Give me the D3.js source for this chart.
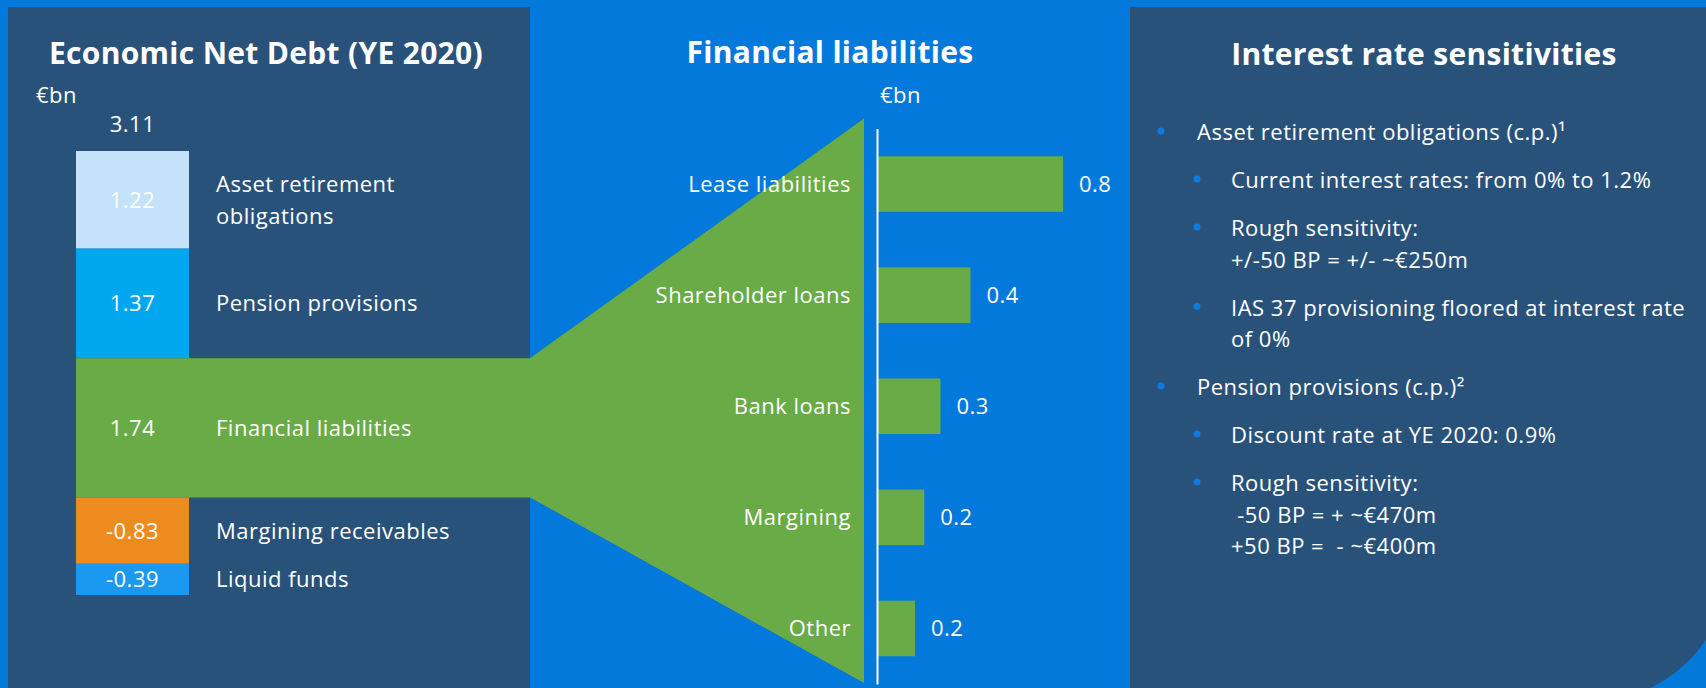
<!DOCTYPE html>
<html lang="en">
<head>
<meta charset="UTF-8">
<title>Economic Net Debt</title>
<script src="https://cdn.jsdelivr.net/npm/d3@7"></script>
<style>
    body { margin: 0; background: #0479dc; overflow: hidden; }
    svg text { font-family: "Open Sans", sans-serif; fill: #fff; letter-spacing: 0.5px; }
    svg text.title { letter-spacing: 0.3px; }
</style>
</head>
<body>
<script>
    var width = 1706;
    var height = 688;

    // Economic net debt YE 2020, €bn
    var debtLabels = [["Asset retirement", "obligations"], ["Pension provisions"], ["Financial liabilities"],
        ["Margining receivables"], ["Liquid funds"]];
    var debtValues = [1.22, 1.37, 1.74, -0.83, -0.39];
    var debtColors = ["#c4e3fa", "#00a7ee", "#69ab47", "#ee8b1f", "#1b99f1"];

    // breakdown of financial liabilities, €bn
    var liabCategories = ["Lease liabilities", "Shareholder loans", "Bank loans", "Margining", "Other"];
    var liabValues = [0.80, 0.40, 0.27, 0.20, 0.16];

    // interest rate sensitivities: [level, lines]
    var sensItems = [
        [1, ["Asset retirement obligations (c.p.)\u00b9"]],
        [2, ["Current interest rates: from 0% to 1.2%"]],
        [2, ["Rough sensitivity:", "+/-50 BP = +/- ~\u20ac250m"]],
        [2, ["IAS 37 provisioning floored at interest rate", "of 0%"]],
        [1, ["Pension provisions (c.p.)\u00b2"]],
        [2, ["Discount rate at YE 2020: 0.9%"]],
        [2, ["Rough sensitivity:", " -50 BP = + ~\u20ac470m", "+50 BP =  - ~\u20ac400m"]]
    ];

    var green = "#69ab47";
    var dark = "#29527a";
    var fs = 22;

    var svg = d3.select("body").append("svg")
            .attr("width", width)
            .attr("height", height);

    svg.append("rect").attr("width", width).attr("height", height).attr("fill", "#0479dc");

    // panels
    svg.append("rect")
            .attr("x", 8).attr("y", 7)
            .attr("width", 522).attr("height", height)
            .attr("fill", dark);
    svg.append("path")
            .attr("d", "M1130,7H1730V561A141,141 0 0 1 1589,702H1130Z")
            .attr("fill", dark);

    function title(x, y, txt) {
        svg.append("text")
                .attr("class", "title")
                .attr("x", x).attr("y", y)
                .attr("text-anchor", "middle")
                .attr("font-size", 30)
                .attr("font-weight", 700)
                .text(txt);
    }
    title(266, 64, "Economic Net Debt (YE 2020)");
    title(830, 63, "Financial liabilities");
    title(1424, 65, "Interest rate sensitivities");

    // ---- left: stacked net debt column
    var absVals = debtValues.map(Math.abs);
    var starts = [0].concat(Array.from(d3.cumsum(absVals)));
    var yDebt = d3.scaleLinear()
            .domain([0, d3.sum(absVals)])
            .range([151, 595]);
    var barX0 = 76, barX1 = 189, barMid = (barX0 + barX1) / 2;

    // middle: bar chart scales
    var yBand = d3.scaleBand()
            .domain(liabCategories)
            .range([128.5, 684])
            .paddingInner(0.5)
            .paddingOuter(0.25);
    var xLiab = d3.scaleLinear()
            .domain([0, 0.8])
            .range([878, 1063]);

    // funnel from financial liabilities to the breakdown
    var fl = 2;
    var flTop = yDebt(starts[fl]), flBot = yDebt(starts[fl + 1]);
    var funnelX = 864;
    svg.append("polygon")
            .attr("points", [[barX1, flTop], [530, flTop], [funnelX, yBand.range()[0] - 10],
                [funnelX, yBand.range()[1] - 1], [530, flBot], [barX1, flBot]].join(" "))
            .attr("fill", green);

    svg.selectAll("rect.debt")
            .data(debtValues)
            .enter()
            .append("rect")
            .attr("class", "debt")
            .attr("x", barX0)
            .attr("width", barX1 - barX0)
            .attr("y", function (d, i) { return yDebt(starts[i]); })
            .attr("height", function (d, i) { return yDebt(starts[i + 1]) - yDebt(starts[i]); })
            .attr("fill", function (d, i) { return debtColors[i]; });

    svg.selectAll("text.debtVal")
            .data(debtValues)
            .enter()
            .append("text")
            .attr("class", "debtVal")
            .attr("x", barMid)
            .attr("y", function (d, i) { return (yDebt(starts[i]) + yDebt(starts[i + 1])) / 2; })
            .attr("dy", "0.36em")
            .attr("text-anchor", "middle")
            .attr("font-size", fs)
            .text(function (d) { return d.toFixed(2); });

    var debtLab = svg.selectAll("text.debtLab")
            .data(debtLabels)
            .enter()
            .append("text")
            .attr("class", "debtLab")
            .attr("x", 216)
            .attr("y", function (d, i) { return (yDebt(starts[i]) + yDebt(starts[i + 1])) / 2; })
            .attr("font-size", fs);
    debtLab.selectAll("tspan")
            .data(function (d) { return d; })
            .enter()
            .append("tspan")
            .attr("x", 216)
            .attr("dy", function (d, j, n) { return j === 0 ? (0.36 - (n.length - 1) * 0.72) + "em" : "1.44em"; })
            .text(function (d) { return d; });

    svg.append("text")
            .attr("x", barMid).attr("y", 132)
            .attr("text-anchor", "middle")
            .attr("font-size", fs)
            .text(d3.sum(debtValues).toFixed(2));
    svg.append("text")
            .attr("x", 36).attr("y", 103)
            .attr("font-size", fs)
            .text("\u20acbn");

    // ---- middle: financial liabilities bars
    svg.selectAll("rect.liab")
            .data(liabValues)
            .enter()
            .append("rect")
            .attr("class", "liab")
            .attr("x", xLiab(0))
            .attr("y", function (d, i) { return yBand(liabCategories[i]); })
            .attr("width", function (d) { return xLiab(d) - xLiab(0); })
            .attr("height", yBand.bandwidth())
            .attr("fill", green);

    svg.selectAll("text.liabVal")
            .data(liabValues)
            .enter()
            .append("text")
            .attr("class", "liabVal")
            .attr("x", function (d) { return xLiab(d) + 16; })
            .attr("y", function (d, i) { return yBand(liabCategories[i]) + yBand.bandwidth() / 2; })
            .attr("dy", "0.36em")
            .attr("font-size", fs)
            .text(function (d) { return d.toFixed(1); });

    var yAxis = d3.axisLeft(yBand).tickSize(0).tickSizeOuter(0).tickPadding(26);
    var axisG = svg.append("g")
            .attr("transform", "translate(877,0)")
            .call(yAxis);
    axisG.select(".domain").attr("stroke", "#fff").attr("stroke-width", 2);
    axisG.selectAll("text")
            .attr("font-size", fs)
            .attr("font-family", "Open Sans, sans-serif")
            .attr("dy", "0.36em")
            .attr("fill", "#fff");

    svg.append("text")
            .attr("x", 880).attr("y", 103)
            .attr("font-size", fs)
            .text("\u20acbn");

    // ---- right: bullet list
    var lineY = 140;
    sensItems.forEach(function (item, k) {
        var lvl = item[0], lines = item[1];
        if (k > 0) lineY += 48;
        var dotX = lvl === 1 ? 1161 : 1197;
        var txtX = lvl === 1 ? 1197 : 1231;
        svg.append("circle")
                .attr("cx", dotX).attr("cy", lineY - 9)
                .attr("r", 3.5)
                .attr("fill", "#0a7be3");
        lines.forEach(function (ln, j) {
            if (j > 0) lineY += 31.5;
            svg.append("text")
                    .attr("x", txtX).attr("y", lineY)
                    .attr("font-size", fs)
                    .style("white-space", "pre")
                    .text(ln);
        });
    });
</script>
</body>
</html>
